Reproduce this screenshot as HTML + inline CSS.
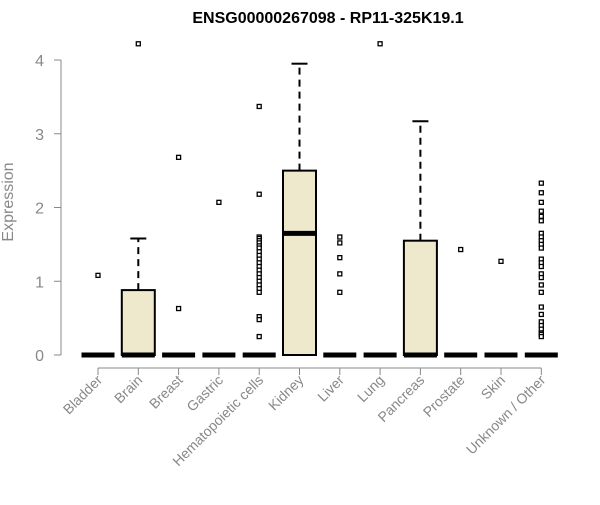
<!DOCTYPE html>
<html><head><meta charset="utf-8"><style>body{margin:0;background:#fff}svg{font-family:"Liberation Sans",Arial,sans-serif}</style></head>
<body>
<svg id="c" width="600" height="500">
<text x="328" y="23" text-anchor="middle" font-weight="bold" font-size="16">ENSG00000267098 - RP11-325K19.1</text>
<text transform="translate(13,202) rotate(-90)" text-anchor="middle" fill="#888" font-size="16">Expression</text>
</svg>
<script>
const categories=["Bladder","Brain","Breast","Gastric","Hematopoietic cells","Kidney","Liver","Lung","Pancreas","Prostate","Skin","Unknown / Other"];
const q1s=[0,0,0,0,0,0,0,0,0,0,0,0];
const medians=[0,0,0,0,0,1.65,0,0,0,0,0,0];
const q3s=[0,0.88,0,0,0,2.5,0,0,1.55,0,0,0];
const whiskerMax=[0,1.58,0,0,0,3.95,0,0,3.17,0,0,0];
const outliers=[[1.08],[4.22],[2.68,0.63],[2.07],[3.37,2.18,1.6,1.58,1.55,1.52,1.48,1.45,1.4,1.35,1.3,1.25,1.2,1.15,1.1,1.05,1.0,0.95,0.9,0.85,0.52,0.48,0.25],[],[1.6,1.52,1.32,1.1,0.85],[4.22],[],[1.43],[1.27],[2.33,2.2,2.07,1.95,1.88,1.82,1.65,1.6,1.55,1.5,1.45,1.3,1.25,1.2,1.1,1.05,0.95,0.85,0.65,0.55,0.45,0.4,0.35,0.3,0.28,0.25]];
const yTicks=[0,1,2,3,4];
const svg=document.getElementById('c');const NS='http://www.w3.org/2000/svg';
const y=v=>355-v*73.75;const x=i=>98+i*40.3;
function mk(t,a){const e=document.createElementNS(NS,t);for(const k in a)e.setAttribute(k,a[k]);svg.appendChild(e);return e;}
let ax=mk('line',{x1:61,x2:61,y1:y(0),y2:y(4),stroke:'#888'});


yTicks.forEach(t=>{let l=mk('line',{x1:54,x2:61,y1:y(t),y2:y(t),stroke:'#888'});


let tx=mk('text',{x:44,y:y(t)+6,'text-anchor':'end',fill:'#888','font-size':16});tx.textContent=t;

});
let xa=mk('line',{x1:x(0),x2:x(11),y1:368,y2:368,stroke:'#888'});


categories.forEach((c,i)=>{const cx=x(i);
let tk=mk('line',{x1:cx,x2:cx,y1:368,y2:375,stroke:'#888'});


let lb=mk('text',{x:cx+5,y:381,'text-anchor':'end',fill:'#888','font-size':14,transform:`rotate(-45 ${cx+5} 381)`});lb.textContent=c;


if(whiskerMax[i]>q3s[i]){let w=mk('line',{x1:cx,x2:cx,y1:y(q3s[i]),y2:y(whiskerMax[i]),stroke:'#000','stroke-width':2,'stroke-dasharray':'7,5'});


let cap=mk('line',{x1:cx-8,x2:cx+8,y1:y(whiskerMax[i]),y2:y(whiskerMax[i]),stroke:'#000','stroke-width':2});

}
if(q3s[i]>q1s[i]){let b=mk('rect',{x:cx-16.5,y:y(q3s[i]),width:33,height:y(q1s[i])-y(q3s[i]),fill:'#EEE8CD',stroke:'#000','stroke-width':2});

}
let m=mk('line',{x1:cx-16.5,x2:cx+16.5,y1:y(medians[i]),y2:y(medians[i]),stroke:'#000','stroke-width':5});


outliers[i].forEach(v=>{let o=mk('rect',{x:cx-2,y:y(v)-2,width:4,height:4,fill:'#fff',stroke:'#000','stroke-width':1.3});

});
});
</script>
</body></html>
